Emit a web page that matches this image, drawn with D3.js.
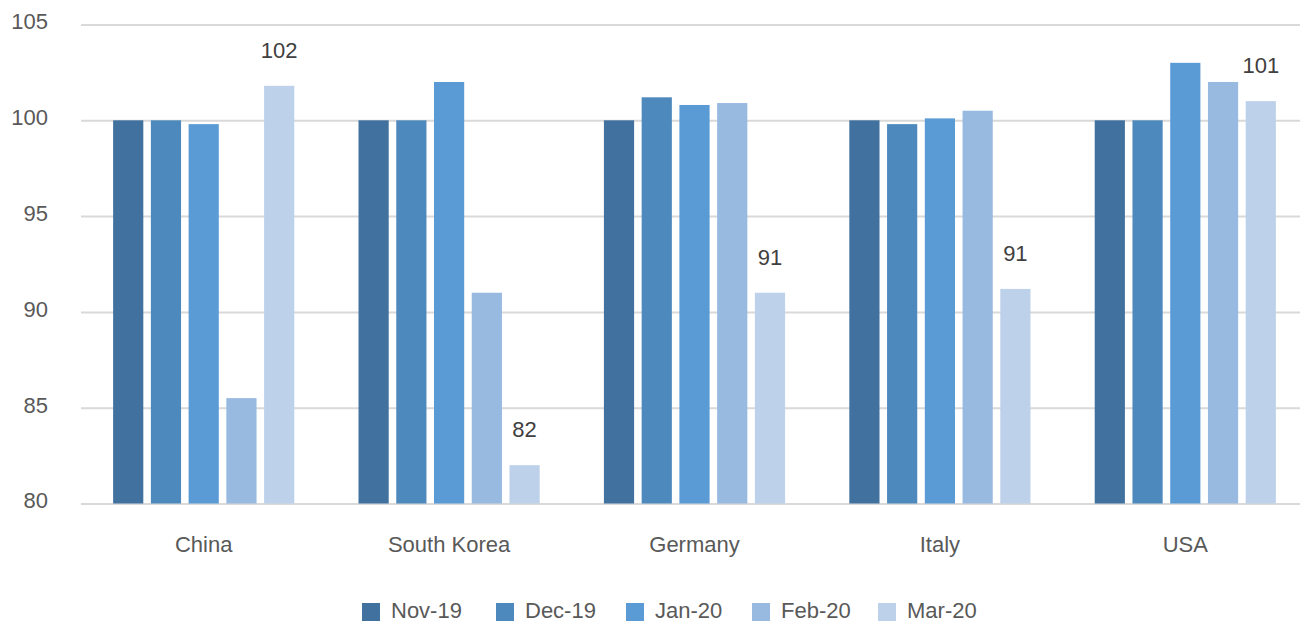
<!DOCTYPE html>
<html><head><meta charset="utf-8">
<script src="https://cdn.jsdelivr.net/npm/d3@7"></script>
<style>
html,body{margin:0;padding:0;background:#fff;}
svg{display:block;}
svg text{font-family:"Liberation Sans",Arial,sans-serif;}
</style></head><body>
<svg id="chart" width="1300" height="622"></svg>
<script>
const categories = ["China","South Korea","Germany","Italy","USA"];
const seriesNames = ["Nov-19","Dec-19","Jan-20","Feb-20","Mar-20"];
const nov19 = [100, 100, 100, 100, 100];
const dec19 = [100, 100, 101.2, 99.8, 100];
const jan20 = [99.8, 102, 100.8, 100.1, 103];
const feb20 = [85.5, 91, 100.9, 100.5, 102];
const mar20 = [101.8, 82, 91, 91.2, 101];
const marLabels = ["102","82","91","91","101"];
const yTicks = [80, 85, 90, 95, 100, 105];
const colors = ["#41729f","#4e89bd","#5b9bd5","#98b9e0","#bdd1ea"];

const series = [nov19, dec19, jan20, feb20, mar20];
const svg = d3.select("#chart");
const y = d3.scaleLinear().domain([80,105]).range([503.5, 24.5]);
const x0 = d3.scaleBand().domain(categories).range([81, 1308]).paddingInner(0.231).paddingOuter(0.1155);
const x1 = d3.scaleBand().domain(seriesNames).range([0, x0.bandwidth()]).paddingInner(0.2).paddingOuter(0.1);

// gridlines + y labels
const yAxis = d3.axisLeft(y).tickValues(yTicks).tickSize(-(1300-81)).tickFormat(d3.format("d"));
const ga = svg.append("g").attr("transform","translate(81,0)").call(yAxis);
ga.attr("font-family", null).attr("font-size", null);
ga.select(".domain").remove();
ga.selectAll(".tick line").attr("stroke","#d9d9d9").attr("stroke-width",2);
ga.selectAll(".tick text").attr("x",-33).attr("fill","#595959").style("font-size","22px").attr("dy","0.2em");

// bars
categories.forEach((c, i) => {
  const g = svg.append("g").attr("transform", `translate(${x0(c)},0)`);
  series.forEach((s, j) => {
    g.append("rect")
      .attr("x", x1(seriesNames[j]))
      .attr("width", x1.bandwidth())
      .attr("y", y(s[i]))
      .attr("height", y(80) - y(s[i]))
      .attr("fill", colors[j]);
  });
  g.append("text")
    .attr("x", x1("Mar-20") + x1.bandwidth()/2)
    .attr("y", y(mar20[i]) - 28)
    .attr("text-anchor","middle")
    .attr("fill","#404040")
    .style("font-size","22px")
    .text(marLabels[i]);
});

// x axis labels
const xAxis = d3.axisBottom(x0).tickSize(0).tickPadding(0);
const gx = svg.append("g").attr("transform","translate(0,552)").call(xAxis);
gx.attr("font-family", null).attr("font-size", null);
gx.select(".domain").remove();
gx.selectAll(".tick text").attr("fill","#595959").style("font-size","22px").attr("dy","0");

// legend
const legendX = [362, 496, 626, 752, 878];
const lg = svg.append("g");
seriesNames.forEach((n, j) => {
  lg.append("rect").attr("x", legendX[j]).attr("y", 603).attr("width", 18).attr("height", 18).attr("fill", colors[j]);
  lg.append("text").attr("x", legendX[j] + 29).attr("y", 618).attr("fill","#595959").style("font-size","22px").text(n);
});
</script>
</body></html>
